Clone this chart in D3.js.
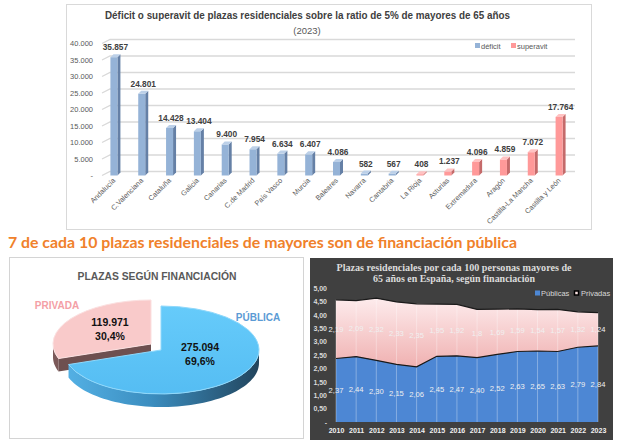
<!DOCTYPE html>
<html><head><meta charset="utf-8">
<script src="https://cdn.jsdelivr.net/npm/d3@7"></script>
<style>body{margin:0;background:#fff}svg{display:block}</style>
</head><body>
<svg id="c" width="640" height="446"></svg>
<script>
// ---------- DATA ----------
const regions = ["Andalucía","C.Valenciana","Cataluña","Galicia","Canarias","C.de Madrid","País Vasco","Murcia","Baleares","Navarra","Cantabria","La Rioja","Asturias","Extremadura","Aragón","Castilla-La Mancha","Castilla y León"];
const gapValues = [35857,24801,14428,13404,9400,7954,6634,6407,4086,582,567,408,1237,4096,4859,7072,17764];
const gapTypes = ["déficit","déficit","déficit","déficit","déficit","déficit","déficit","déficit","déficit","déficit","déficit","superavit","superavit","superavit","superavit","superavit","superavit"];
const gapTicks = [0,5000,10000,15000,20000,25000,30000,35000,40000];
const gapLegend = ["déficit","superavit"];

const pieNames = ["PÚBLICA","PRIVADA"];
const pieValues = [275094,119971];
const piePct = ["69,6%","30,4%"];

const years = [2010,2011,2012,2013,2014,2015,2016,2017,2018,2019,2020,2021,2022,2023];
const publicas = [2.37,2.44,2.30,2.15,2.06,2.45,2.47,2.40,2.52,2.63,2.65,2.63,2.79,2.84];
const privadas = [2.19,2.09,2.32,2.33,2.35,1.95,1.92,1.8,1.69,1.59,1.54,1.57,1.32,1.24];
const areaTicks = [0,0.5,1,1.5,2,2.5,3,3.5,4,4.5,5];
const areaLegend = ["Públicas","Privadas"];

// ---------- SETUP ----------
const svg = d3.select("#c");
const loc = d3.formatLocale({decimal:",",thousands:".",grouping:[3],currency:["","€"]});
const fmtInt = loc.format(",d");
const fmt2 = loc.format(".2f");
const SANS = "'Liberation Sans', Arial, sans-serif";
const defs = svg.append("defs");

// ---------- TOP CHART ----------
svg.append("rect").attr("x",66.5).attr("y",4.5).attr("width",525).attr("height",225)
  .attr("fill","#fff").attr("stroke","#d9d9d9");

const x1 = d3.scaleBand().domain(regions).range([101,574]);
const y1 = d3.scaleLinear().domain([0,40000]).range([175.5,43.5]);
const bw = 7, dd = 3, back = 4;

const grid1 = svg.append("g");
gapTicks.forEach(v=>{
  const y = y1(v);
  grid1.append("path").attr("d",`M102,${y}L110,${y-back}L575,${y-back}`)
    .attr("fill","none").attr("stroke","#d9d9d9").attr("stroke-width",1.3);
});

const ya1 = svg.append("g").attr("transform","translate(93,0)")
  .call(d3.axisLeft(y1).tickValues(gapTicks).tickFormat(v=>v===0?"-":fmtInt(v)).tickSize(0).tickPadding(0));
ya1.select(".domain").remove();
ya1.selectAll("text").attr("font-family",SANS).attr("font-size",7.5).attr("fill","#595959");

const colFront = {"déficit":"#95b3d7","superavit":"#ff9999"};
const colSide = {"déficit":"#6580a6","superavit":"#c56a6a"};
const colTop = {"déficit":"#bcd0e8","superavit":"#ffc2c2"};

const bars = svg.append("g");
regions.forEach((r,i)=>{
  const v = gapValues[i], t = gapTypes[i];
  const cx = x1(r)+x1.bandwidth()/2;
  const fx = cx-4.5, yt = y1(v), yb = y1(0);
  bars.append("path").attr("d",`M${fx+bw},${yt}L${fx+bw+dd},${yt-dd}L${fx+bw+dd},${yb-dd}L${fx+bw},${yb}Z`).attr("fill",colSide[t]);
  bars.append("rect").attr("x",fx).attr("y",yt).attr("width",bw).attr("height",yb-yt).attr("fill",colFront[t]);
  bars.append("path").attr("d",`M${fx},${yt}L${fx+dd},${yt-dd}L${fx+bw+dd},${yt-dd}L${fx+bw},${yt}Z`).attr("fill",colTop[t]);
  bars.append("text").attr("x",cx+0.5).attr("y",yt-7).attr("text-anchor","middle")
    .attr("font-family",SANS).attr("font-weight","bold").attr("font-size",8.3).attr("fill","#404040")
    .text(fmtInt(v));
  bars.append("text").attr("transform",`translate(${cx+1},181) rotate(-45)`).attr("text-anchor","end")
    .attr("font-family",SANS).attr("font-size",7.2).attr("fill","#595959").text(r);
});

const lg1 = svg.append("g");
[[475,481],[511,517]].forEach((p,i)=>{
  lg1.append("rect").attr("x",p[0]).attr("y",43).attr("width",5).attr("height",5).attr("fill",colFront[gapLegend[i]]);
  lg1.append("text").attr("x",p[1]).attr("y",48.5).attr("font-family",SANS).attr("font-size",7.5)
    .attr("fill","#595959").text(gapLegend[i]);
});

svg.append("text").attr("x",307.5).attr("y",19).attr("text-anchor","middle")
  .attr("font-family",SANS).attr("font-weight","bold").attr("font-size",10.3).attr("fill","#404040")
  .attr("textLength",405).attr("lengthAdjust","spacingAndGlyphs")
  .text("Déficit o superavit de plazas residenciales sobre la ratio de 5% de mayores de 65 años");
svg.append("text").attr("x",307).attr("y",33.5).attr("text-anchor","middle")
  .attr("font-family",SANS).attr("font-size",9.5).attr("fill","#595959").text("(2023)");

// ---------- HEADLINE ----------
svg.append("text").attr("x",8).attr("y",248).attr("font-family","Lato, 'Open Sans', sans-serif")
  .attr("font-weight","bold").attr("font-size",14.5).attr("fill","#f0812b")
  .attr("textLength",509).attr("lengthAdjust","spacingAndGlyphs")
  .text("7 de cada 10 plazas residenciales de mayores son de financiación pública");

// ---------- PIE ----------
svg.append("rect").attr("x",9.5).attr("y",257.5).attr("width",294).attr("height",181)
  .attr("fill","#fff").attr("stroke","#d4d4d4");
svg.append("text").attr("x",157).attr("y",280).attr("text-anchor","middle")
  .attr("font-family",SANS).attr("font-weight","bold").attr("font-size",10).attr("fill","#595959")
  .attr("textLength",159).attr("lengthAdjust","spacingAndGlyphs").text("PLAZAS SEGÚN FINANCIACIÓN");

const sideGrad = defs.append("linearGradient").attr("id","pubSide").attr("gradientUnits","userSpaceOnUse")
  .attr("x1",63).attr("y1",0).attr("x2",260).attr("y2",0);
sideGrad.append("stop").attr("offset","0%").attr("stop-color","#55b2e6");
sideGrad.append("stop").attr("offset","45%").attr("stop-color","#3b8dbf");
sideGrad.append("stop").attr("offset","100%").attr("stop-color","#22445c");
const topGrad = defs.append("linearGradient").attr("id","pubTop").attr("x1",0).attr("y1",0).attr("x2",0).attr("y2",1);
topGrad.append("stop").attr("offset","0%").attr("stop-color","#66cbfa");
topGrad.append("stop").attr("offset","100%").attr("stop-color","#55bdf3");

const pieArcs = d3.pie().sort(null).value(d=>d)(pieValues);
const pcx=161, pcy=350, rx=98, ry=44, dep=13;
const offs = [[0,0],[-10,-6]];
const topCol = ["url(#pubTop)","#f9caca"];
const sideCol = ["url(#pubSide)","#7b5959"];
const faceCol = ["#2f6a8f","#6e5050"];
const P = (a,ox,oy)=>[pcx+ox+rx*Math.sin(a), pcy+oy-ry*Math.cos(a)];
const lineGen = d3.line();
const pieG = svg.append("g");
[1,0].forEach(i=>{
  const a = pieArcs[i], [ox,oy] = offs[i];
  const lo = Math.max(a.startAngle, Math.PI/2), hi = Math.min(a.endAngle, 3*Math.PI/2);
  // start radial face
  if (Math.sin(a.startAngle) < -1e-6){
    const p = P(a.startAngle,ox,oy), c=[pcx+ox,pcy+oy];
    pieG.append("path").attr("d",lineGen([c,p,[p[0],p[1]+dep],[c[0],c[1]+dep]])+"Z").attr("fill",faceCol[i]);
  }
  if (Math.sin(a.endAngle) > 1e-6){
    const p = P(a.endAngle,ox,oy), c=[pcx+ox,pcy+oy];
    pieG.append("path").attr("d",lineGen([c,p,[p[0],p[1]+dep],[c[0],c[1]+dep]])+"Z").attr("fill",faceCol[i]);
  }
  if (lo < hi){
    const n = 60, topPts = d3.range(n+1).map(k=>P(lo+(hi-lo)*k/n,ox,oy));
    const botPts = topPts.slice().reverse().map(p=>[p[0],p[1]+dep]);
    pieG.append("path").attr("d",lineGen(topPts.concat(botPts))+"Z").attr("fill",sideCol[i]);
  }
  pieG.append("path").attr("transform",`translate(${pcx+ox},${pcy+oy}) scale(1,${ry/rx})`)
    .attr("d",d3.arc().innerRadius(0).outerRadius(rx)(a)).attr("fill",topCol[i])
    .attr("stroke",i===0?"#8fd8fb":"#fbe0e0").attr("stroke-width",1).attr("vector-effect","non-scaling-stroke");
});
const pieTxt = svg.append("g").attr("font-family",SANS).attr("font-weight","bold").attr("font-size",10.5)
  .attr("fill","#111").attr("text-anchor","middle");
pieTxt.append("text").attr("x",200).attr("y",351).text(fmtInt(pieValues[0]));
pieTxt.append("text").attr("x",200).attr("y",365).text(piePct[0]);
pieTxt.append("text").attr("x",110).attr("y",326).text(fmtInt(pieValues[1]));
pieTxt.append("text").attr("x",110).attr("y",340).text(piePct[1]);
svg.append("text").attr("x",258).attr("y",321).attr("text-anchor","middle").attr("font-family",SANS)
  .attr("font-weight","bold").attr("font-size",10).attr("fill","#5b9bd5").text(pieNames[0]);
svg.append("text").attr("x",57).attr("y",309).attr("text-anchor","middle").attr("font-family",SANS)
  .attr("font-weight","bold").attr("font-size",10).attr("fill","#f4a0a6").text(pieNames[1]);

// ---------- AREA CHART ----------
svg.append("rect").attr("x",310).attr("y",258).attr("width",303).attr("height",182).attr("fill","#404040");
const x2 = d3.scalePoint().domain(years).range([336,598]);
const y2 = d3.scaleLinear().domain([0,5]).range([422,288]);
const rows = years.map((yr,i)=>({year:yr, pub:publicas[i], priv:privadas[i]}));
const stack = d3.stack().keys(["pub","priv"])(rows);

const pinkGrad = defs.append("linearGradient").attr("id","pink").attr("gradientUnits","userSpaceOnUse")
  .attr("x1",0).attr("y1",y2(4.6)).attr("x2",0).attr("y2",y2(2.1));
pinkGrad.append("stop").attr("offset","0%").attr("stop-color","#fdebec");
pinkGrad.append("stop").attr("offset","100%").attr("stop-color","#f0b2b2");

const area = d3.area().x(d=>x2(d.data.year)).y0(d=>y2(d[0])).y1(d=>y2(d[1]));
const fills = ["#4d87d4","url(#pink)"];
stack.forEach((s,i)=>{
  svg.append("path").attr("d",area(s)).attr("fill",fills[i]);
});
// vertical year lines
rows.forEach((r,i)=>{
  svg.append("line").attr("x1",x2(r.year)).attr("x2",x2(r.year)).attr("y1",y2(0)).attr("y2",y2(r.pub+r.priv))
    .attr("stroke","#ffffff").attr("stroke-opacity",0.32).attr("stroke-width",1);
});
const topLine = d3.line().x(d=>x2(d.data.year)).y(d=>y2(d[1]));
stack.forEach((s,i)=>{
  svg.append("path").attr("d",topLine(s)).attr("fill","none").attr("stroke","#1a1a1a").attr("stroke-width",1.2);
});
// data labels
const lbl = svg.append("g").attr("font-family",SANS).attr("font-size",7.6).attr("fill","#f0f0f0").attr("text-anchor","middle");
rows.forEach((r,i)=>{
  lbl.append("text").attr("x",x2(r.year)).attr("y",y2(r.pub/2)+2.7).text(fmt2(r.pub));
  lbl.append("text").attr("x",x2(r.year)).attr("y",y2(r.pub+r.priv/2)+2.7).text(String(r.priv).replace(".",","));
});

const ya2 = svg.append("g").attr("transform","translate(327,0)")
  .call(d3.axisLeft(y2).tickValues(areaTicks).tickFormat(v=>v===0?"-":fmt2(v)).tickSize(0).tickPadding(0));
ya2.select(".domain").remove();
ya2.selectAll("text").attr("font-family",SANS).attr("font-size",7).attr("font-weight","bold").attr("fill","#d9d9d9");

const xa2 = svg.append("g").attr("transform","translate(0,425)")
  .call(d3.axisBottom(x2).tickSize(0).tickPadding(3));
xa2.select(".domain").remove();
xa2.selectAll("text").attr("font-family",SANS).attr("font-size",7).attr("font-weight","bold").attr("fill","#f2f2f2");

const lg2 = svg.append("g").attr("font-family",SANS).attr("font-size",7.5).attr("fill","#d9d9d9");
lg2.append("rect").attr("x",535).attr("y",290.5).attr("width",5).attr("height",5).attr("fill","#4d87d4");
lg2.append("text").attr("x",541).attr("y",295.5).text(areaLegend[0]);
lg2.append("rect").attr("x",574.5).attr("y",291).attr("width",4).attr("height",4).attr("fill","#fbe3e3").attr("stroke","#000").attr("stroke-width",1.5);
lg2.append("text").attr("x",581).attr("y",295.5).text(areaLegend[1]);

const tt = svg.append("g").attr("font-family","'Liberation Serif', 'DejaVu Serif', serif").attr("font-weight","bold")
  .attr("font-size",10.5).attr("fill","#dcdcdc").attr("text-anchor","middle");
tt.append("text").attr("x",454).attr("y",270.5).attr("textLength",235).attr("lengthAdjust","spacingAndGlyphs")
  .text("Plazas residenciales por cada 100 personas mayores de");
tt.append("text").attr("x",454).attr("y",282).attr("textLength",162).attr("lengthAdjust","spacingAndGlyphs")
  .text("65 años en España, según financiación");
</script>
</body></html>
